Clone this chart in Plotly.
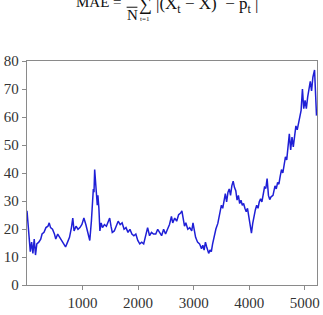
import plotly.graph_objects as go

# Series values (index, value)
t_index = [0, 36, 59, 83, 106, 130, 153, 177, 212, 247, 271, 306, 341, 377, 400, 424, 459, 494, 518, 553,
           588, 624, 659, 694, 730, 765, 800, 824, 847, 882, 918, 953, 988, 1024, 1059, 1094, 1130,
           1159, 1177, 1194, 1206, 1218, 1235, 1253, 1265, 1276, 1294, 1312, 1335, 1359, 1394, 1429, 1465,
           1488, 1512, 1535, 1571, 1606, 1641, 1677, 1712, 1747, 1782, 1818, 1853, 1888, 1924, 1959, 1994,
           2030, 2065, 2100, 2135, 2171, 2206, 2241, 2277,
           2318, 2353, 2388, 2423, 2459, 2494, 2529, 2565, 2600, 2623, 2659, 2694, 2729, 2765, 2788, 2812,
           2835, 2859, 2894, 2929, 2965, 2988, 3012, 3035, 3070, 3106, 3141, 3165, 3188, 3212, 3235, 3270,
           3294, 3318, 3341, 3365,
           3400, 3435, 3452, 3476, 3499, 3523, 3546, 3570, 3593, 3617, 3640, 3664, 3687, 3711, 3734, 3758,
           3781, 3805, 3828, 3852, 3875, 3899, 3922, 3946, 3969, 3993, 4016, 4040, 4063, 4087, 4110, 4134,
           4158, 4181, 4205, 4228, 4252, 4275, 4299, 4322, 4346, 4369, 4393, 4428,
           4464, 4487, 4511, 4534, 4558, 4581, 4605, 4628, 4652, 4675, 4699, 4722, 4746, 4770, 4793, 4817,
           4840, 4864, 4887, 4911, 4934, 4958, 4981, 5005, 5028, 5052, 5075, 5099, 5122, 5146, 5176, 5193, 5211]
values = [26.5, 15.9, 11.9, 15.3, 11.3, 16.4, 10.7, 14.7, 15.3, 16.4, 18.2, 18.8, 20.5, 21.0, 22.2, 20.5,
          19.9, 18.2, 16.4, 18.2, 17.0, 15.9, 14.7, 13.6, 15.3, 17.0, 20.5, 23.9, 19.3, 21.0, 19.9, 20.5,
          21.6, 23.9, 21.6, 18.2, 15.9,
          22.8, 29.7, 34.3, 33.1, 41.2, 36.6, 33.1, 28.5, 32.0, 27.4, 19.3, 22.2, 20.5, 21.6, 21.0, 22.8,
          23.9, 21.0, 18.8, 19.3, 21.0, 22.8, 21.6, 22.2, 19.9, 20.5, 18.8, 19.9, 18.2, 17.6, 18.2, 15.9,
          14.7, 15.3, 14.7, 18.2, 20.5, 17.6, 18.8, 18.2,
          18.2, 19.9, 18.8, 17.6, 19.9, 18.2, 19.9, 21.6, 24.5, 22.2, 23.9, 22.8, 25.1, 25.7, 26.5, 23.9,
          21.0, 22.2, 19.9, 20.5, 19.3, 22.2, 19.3, 17.0, 15.3, 14.7, 13.0, 14.2, 12.5, 15.3, 13.6, 11.3,
          12.5, 11.9, 14.7, 17.0,
          20.0, 22.0, 23.9, 26.2, 28.5, 27.4, 30.8, 32.6, 29.7, 33.1, 34.3, 32.0, 35.4, 37.1, 34.9, 33.7,
          30.3, 32.0, 29.1, 30.3, 28.5, 29.1, 27.4, 26.2, 27.4, 23.9, 20.5, 18.5, 22.0, 25.1, 26.8, 28.5,
          27.4, 29.7, 30.8, 29.7, 32.6, 34.9, 34.5, 38.0, 32.0, 30.5, 31.5, 32.0,
          35.4, 34.3, 36.6, 36.0, 38.9, 41.2, 40.0, 43.5, 45.8, 44.7, 49.3, 54.0, 48.2, 52.8, 49.3, 53.9,
          56.8, 55.4, 57.4, 60.6, 62.4, 70.0, 63.0, 65.9, 63.0, 67.1, 70.4, 72.7, 69.3, 74.2, 76.8, 70.4, 60.5]

x_ticks = [1000, 2000, 3000, 4000, 5000]
y_ticks = [0, 10, 20, 30, 40, 50, 60, 70, 80]

W, H = 323, 315
L, R, T, B = 23.3, 3.7, 60.7, 22.3

fig = go.Figure()
fig.add_trace(go.Scatter(x=t_index, y=values, mode="lines",
                         line=dict(color="#1f1fd6", width=1.5), showlegend=False))

serif = "Liberation Serif"
axcol = "#8a8a8a"
tickfont = dict(family=serif, size=15, color="#333333")
fig.update_xaxes(range=[0, 5220], tickvals=x_ticks, ticktext=[str(v) for v in x_ticks],
                 showgrid=False, zeroline=False, showline=True, linecolor=axcol, linewidth=1.3,
                 mirror=True, ticks="outside", ticklen=4, tickcolor=axcol, tickwidth=1,
                 tickfont=tickfont)
fig.update_yaxes(range=[0, 80], tickvals=y_ticks, ticktext=[str(v) for v in y_ticks],
                 showgrid=False, zeroline=False, showline=True, linecolor=axcol, linewidth=1.3,
                 mirror=True, ticks="outside", ticklen=4, tickcolor=axcol, tickwidth=1,
                 tickfont=tickfont)

plot_h = H - T - B
plot_w = W - L - R

def px(x):
    return (x - L) / plot_w

def py(y):
    return (H - B - y) / plot_h

def ann(text, x, y, size, xanchor="center", yanchor="middle"):
    fig.add_annotation(text=text, x=px(x), y=py(y), xref="paper", yref="paper",
                       showarrow=False, xanchor=xanchor, yanchor=yanchor,
                       font=dict(family=serif, size=size, color="#111"))

# Partially visible formula at the top (cropped in the reference)
ann("MAE =", 122, 0, 15, xanchor="right")
fig.add_shape(type="line", xref="paper", yref="paper",
              x0=px(125), x1=px(136), y0=py(5), y1=py(5),
              line=dict(color="#111", width=1))
ann("N", 130.5, 13.5, 15)
ann("\u2211", 144, 2, 18)
ann("t=1", 144, 17, 7)
ann("|(X<sub>t</sub> \u2212 X)  \u2212 p<sub>t</sub> |", 153, 3, 17, xanchor="left")

fig.update_layout(width=W, height=H, margin=dict(l=L, r=R, t=T, b=B),
                  paper_bgcolor="white", plot_bgcolor="white")

fig.write_html("out.html")
